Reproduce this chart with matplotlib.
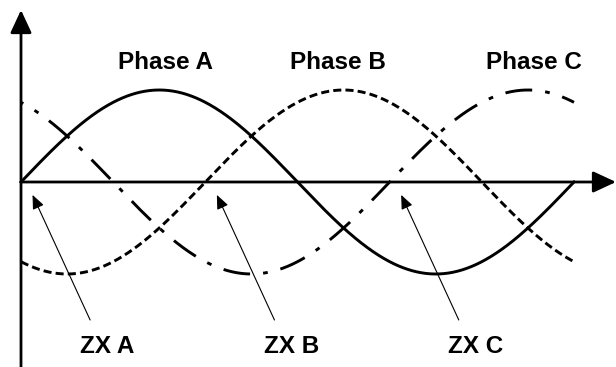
import numpy as np
import matplotlib
matplotlib.use("Agg")
import matplotlib.pyplot as plt

plt.rcParams['font.family'] = ['Liberation Sans', 'DejaVu Sans']
plt.rcParams['lines.scale_dashes'] = False

# ---- data ----
phase_names = ["Phase A", "Phase B", "Phase C"]
phase_shift_deg = [0, -120, 120]          # phase offset of each wave
amplitude = 1.0
zx_names = ["ZX A", "ZX B", "ZX C"]
zx_angles_deg = [0, 120, 240]             # zero crossings pointed at
label_angles_deg = [94, 206, 334]         # where the phase names sit

# ---- geometry (pixel layout of the reference) ----
W, H, DPI = 616, 367, 100
x0_px, x360_px = 21, 574
y0_px, amp_px = 182, 92
px_per_deg = (x360_px - x0_px) / 360.0

fig = plt.figure(figsize=(W / DPI, H / DPI), dpi=DPI)
ax = fig.add_axes([0, 0, 1, 1])
ax.set_xlim(-x0_px / px_per_deg, (W - x0_px) / px_per_deg)
ax.set_ylim(-(H - y0_px) / amp_px, y0_px / amp_px)
ax.axis('off')

theta = np.linspace(0, 360, 721)
styles = [
    dict(linestyle='-'),
    dict(linestyle=(0, (5.8, 3.0))),
    dict(linestyle=(17.5, (19.4, 9.4, 3.4, 9.4))),
]
for shift, st in zip(phase_shift_deg, styles):
    y = amplitude * np.sin(np.radians(theta + shift))
    ax.plot(theta, y, color='black', lw=2.1, **st)

xmin, xmax = ax.get_xlim()
ymin, ymax = ax.get_ylim()
# axes with arrows
axis_arrow = dict(arrowstyle='-|>,head_length=1.4,head_width=0.65',
                  mutation_scale=10, lw=2.0, color='black',
                  shrinkA=0, shrinkB=0)
ax.annotate('', xy=(xmax, 0), xytext=(0, 0), arrowprops=axis_arrow)
ax.annotate('', xy=(0, (y0_px - 10) / amp_px), xytext=(0, ymin),
            arrowprops=axis_arrow)

# phase labels
for name, ang in zip(phase_names, label_angles_deg):
    ax.text(ang, 1.30, name, ha='center', va='center',
            fontsize=17.5, fontweight='bold')

# zero-crossing annotations
zx_arrow = dict(arrowstyle='-|>,head_length=0.85,head_width=0.36',
                mutation_scale=10, lw=0.8, color='black',
                shrinkA=0, shrinkB=0)
for name, ang in zip(zx_names, zx_angles_deg):
    ax.annotate('', xy=(ang + 7.5, -0.14), xytext=(ang + 45, -1.5),
                arrowprops=zx_arrow)
    ax.text(ang + 56, -1.79, name, ha='center', va='center',
            fontsize=17.5, fontweight='bold')

fig.savefig('out.png', dpi=DPI, facecolor='white')
